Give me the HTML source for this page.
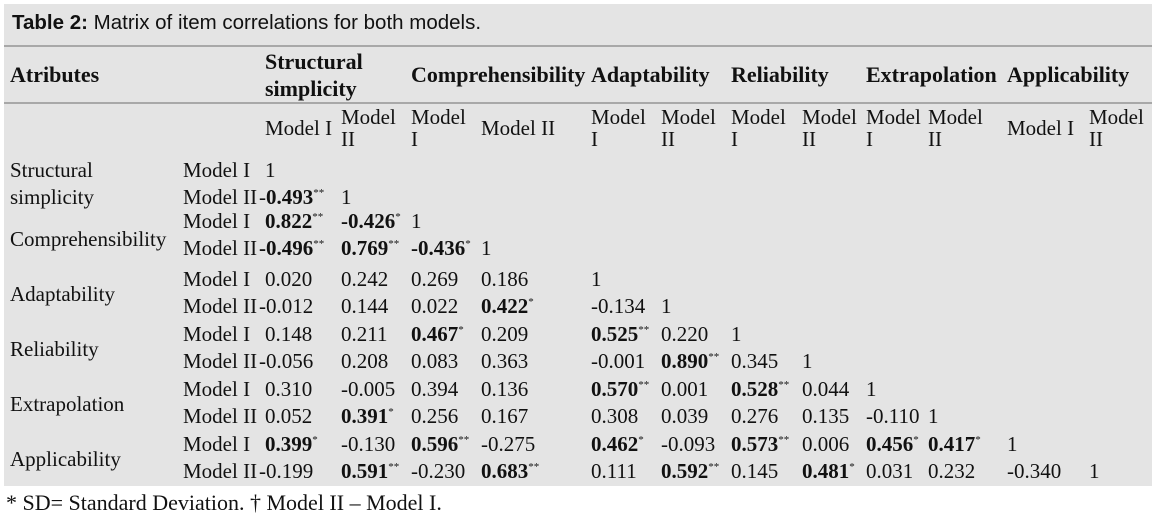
<!DOCTYPE html>
<html><head><meta charset="utf-8"><style>
body{margin:0;width:1155px;height:519px;background:#fff;position:relative;overflow:hidden;font-family:"Liberation Serif",serif;font-size:21px;color:#111}
#box{position:absolute;left:4px;top:4px;width:1148px;height:482px;background:#e4e4e4}
.t{position:absolute;white-space:nowrap;line-height:22px}
.h{font-size:22px}
.hl{position:absolute;left:4px;width:1148px;height:2px;background:#a8a8a8}
sup{font-size:11px;vertical-align:0;position:relative;top:-8px}
b{font-weight:bold}
</style></head><body>
<div id="box"></div>
<div class="t" style="left:12px;top:12px;font-family:'Liberation Sans',sans-serif;font-size:20.5px"><b>Table 2:</b> Matrix of item correlations for both models.</div>
<div class="hl" style="top:45px"></div>
<div class="hl" style="top:102px"></div>
<div class="t h" style="left:10px;top:64px"><b>Atributes</b></div>
<div class="t h" style="left:265px;top:51px"><b>Structural</b></div>
<div class="t h" style="left:265px;top:78px"><b>simplicity</b></div>
<div class="t h" style="left:411px;top:64px"><b>Comprehensibility</b></div>
<div class="t h" style="left:591px;top:64px"><b>Adaptability</b></div>
<div class="t h" style="left:731px;top:64px"><b>Reliability</b></div>
<div class="t h" style="left:866px;top:64px"><b>Extrapolation</b></div>
<div class="t h" style="left:1007px;top:64px"><b>Applicability</b></div>

<div class="t" style="left:265px;top:117px">Model I</div>
<div class="t" style="left:341px;top:106px">Model<br>II</div>
<div class="t" style="left:411px;top:106px">Model<br>I</div>
<div class="t" style="left:481px;top:117px">Model II</div>
<div class="t" style="left:591px;top:106px">Model<br>I</div>
<div class="t" style="left:661px;top:106px">Model<br>II</div>
<div class="t" style="left:731px;top:106px">Model<br>I</div>
<div class="t" style="left:802px;top:106px">Model<br>II</div>
<div class="t" style="left:866px;top:106px">Model<br>I</div>
<div class="t" style="left:928px;top:106px">Model<br>II</div>
<div class="t" style="left:1007px;top:117px">Model I</div>
<div class="t" style="left:1089px;top:106px">Model<br>II</div>

<div class="t" style="left:10px;top:159px">Structural</div>
<div class="t" style="left:10px;top:186px">simplicity</div>
<div class="t" style="left:10px;top:228px">Comprehensibility</div>
<div class="t" style="left:10px;top:283px">Adaptability</div>
<div class="t" style="left:10px;top:338px">Reliability</div>
<div class="t" style="left:10px;top:393px">Extrapolation</div>
<div class="t" style="left:10px;top:448px">Applicability</div>

<div class="t" style="left:183px;top:159px">Model I</div>
<div class="t" style="left:183px;top:186px">Model II</div>
<div class="t" style="left:183px;top:210px">Model I</div>
<div class="t" style="left:183px;top:237px">Model II</div>
<div class="t" style="left:183px;top:268px">Model I</div>
<div class="t" style="left:183px;top:295px">Model II</div>
<div class="t" style="left:183px;top:323px">Model I</div>
<div class="t" style="left:183px;top:350px">Model II</div>
<div class="t" style="left:183px;top:378px">Model I</div>
<div class="t" style="left:183px;top:405px">Model II</div>
<div class="t" style="left:183px;top:433px">Model I</div>
<div class="t" style="left:183px;top:460px">Model II</div>

<div class="t" style="left:265px;top:159px">1</div>
<div class="t" style="left:259px;top:186px">-<b>0.493</b><sup>**</sup></div>
<div class="t" style="left:341px;top:186px">1</div>
<div class="t" style="left:265px;top:210px"><b>0.822</b><sup>**</sup></div>
<div class="t" style="left:341px;top:210px"><b>-0.426</b><sup>*</sup></div>
<div class="t" style="left:411px;top:210px">1</div>
<div class="t" style="left:259px;top:237px"><b>-0.496</b><sup>**</sup></div>
<div class="t" style="left:341px;top:237px"><b>0.769</b><sup>**</sup></div>
<div class="t" style="left:411px;top:237px"><b>-0.436</b><sup>*</sup></div>
<div class="t" style="left:481px;top:237px">1</div>
<div class="t" style="left:265px;top:268px">0.020</div>
<div class="t" style="left:341px;top:268px">0.242</div>
<div class="t" style="left:411px;top:268px">0.269</div>
<div class="t" style="left:481px;top:268px">0.186</div>
<div class="t" style="left:591px;top:268px">1</div>
<div class="t" style="left:259px;top:295px">-0.012</div>
<div class="t" style="left:341px;top:295px">0.144</div>
<div class="t" style="left:411px;top:295px">0.022</div>
<div class="t" style="left:481px;top:295px"><b>0.422</b><sup>*</sup></div>
<div class="t" style="left:591px;top:295px">-0.134</div>
<div class="t" style="left:661px;top:295px">1</div>
<div class="t" style="left:265px;top:323px">0.148</div>
<div class="t" style="left:341px;top:323px">0.211</div>
<div class="t" style="left:411px;top:323px"><b>0.467</b><sup>*</sup></div>
<div class="t" style="left:481px;top:323px">0.209</div>
<div class="t" style="left:591px;top:323px"><b>0.525</b><sup>**</sup></div>
<div class="t" style="left:661px;top:323px">0.220</div>
<div class="t" style="left:731px;top:323px">1</div>
<div class="t" style="left:259px;top:350px">-0.056</div>
<div class="t" style="left:341px;top:350px">0.208</div>
<div class="t" style="left:411px;top:350px">0.083</div>
<div class="t" style="left:481px;top:350px">0.363</div>
<div class="t" style="left:591px;top:350px">-0.001</div>
<div class="t" style="left:661px;top:350px"><b>0.890</b><sup>**</sup></div>
<div class="t" style="left:731px;top:350px">0.345</div>
<div class="t" style="left:802px;top:350px">1</div>
<div class="t" style="left:265px;top:378px">0.310</div>
<div class="t" style="left:341px;top:378px">-0.005</div>
<div class="t" style="left:411px;top:378px">0.394</div>
<div class="t" style="left:481px;top:378px">0.136</div>
<div class="t" style="left:591px;top:378px"><b>0.570</b><sup>**</sup></div>
<div class="t" style="left:661px;top:378px">0.001</div>
<div class="t" style="left:731px;top:378px"><b>0.528</b><sup>**</sup></div>
<div class="t" style="left:802px;top:378px">0.044</div>
<div class="t" style="left:866px;top:378px">1</div>
<div class="t" style="left:265px;top:405px">0.052</div>
<div class="t" style="left:341px;top:405px"><b>0.391</b><sup>*</sup></div>
<div class="t" style="left:411px;top:405px">0.256</div>
<div class="t" style="left:481px;top:405px">0.167</div>
<div class="t" style="left:591px;top:405px">0.308</div>
<div class="t" style="left:661px;top:405px">0.039</div>
<div class="t" style="left:731px;top:405px">0.276</div>
<div class="t" style="left:802px;top:405px">0.135</div>
<div class="t" style="left:866px;top:405px">-0.110</div>
<div class="t" style="left:928px;top:405px">1</div>
<div class="t" style="left:265px;top:433px"><b>0.399</b><sup>*</sup></div>
<div class="t" style="left:341px;top:433px">-0.130</div>
<div class="t" style="left:411px;top:433px"><b>0.596</b><sup>**</sup></div>
<div class="t" style="left:481px;top:433px">-0.275</div>
<div class="t" style="left:591px;top:433px"><b>0.462</b><sup>*</sup></div>
<div class="t" style="left:661px;top:433px">-0.093</div>
<div class="t" style="left:731px;top:433px"><b>0.573</b><sup>**</sup></div>
<div class="t" style="left:802px;top:433px">0.006</div>
<div class="t" style="left:866px;top:433px"><b>0.456</b><sup>*</sup></div>
<div class="t" style="left:928px;top:433px"><b>0.417</b><sup>*</sup></div>
<div class="t" style="left:1007px;top:433px">1</div>
<div class="t" style="left:259px;top:460px">-0.199</div>
<div class="t" style="left:341px;top:460px"><b>0.591</b><sup>**</sup></div>
<div class="t" style="left:411px;top:460px">-0.230</div>
<div class="t" style="left:481px;top:460px"><b>0.683</b><sup>**</sup></div>
<div class="t" style="left:591px;top:460px">0.111</div>
<div class="t" style="left:661px;top:460px"><b>0.592</b><sup>**</sup></div>
<div class="t" style="left:731px;top:460px">0.145</div>
<div class="t" style="left:802px;top:460px"><b>0.481</b><sup>*</sup></div>
<div class="t" style="left:866px;top:460px">0.031</div>
<div class="t" style="left:928px;top:460px">0.232</div>
<div class="t" style="left:1007px;top:460px">-0.340</div>
<div class="t" style="left:1089px;top:460px">1</div>

<div class="t" style="left:6px;top:492px;font-size:22px">* SD= Standard Deviation. † Model II – Model I.</div>
</body></html>
